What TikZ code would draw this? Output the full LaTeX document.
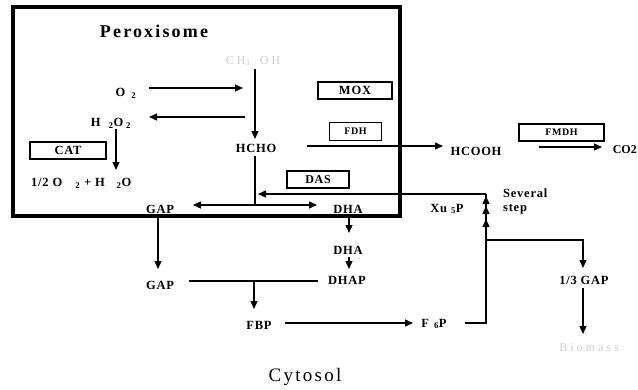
\documentclass[tikz,border=0pt]{standalone}
\usepackage{fontspec}
\setmainfont{Liberation Serif}
\newfontfamily\lblfont[LetterSpace=6]{Liberation Serif}
\newfontfamily\bigfont[LetterSpace=12]{Liberation Serif}
\newfontfamily\widefont[LetterSpace=25]{Liberation Serif}
\usetikzlibrary{arrows.meta,calc}
\begin{document}
\begin{tikzpicture}[x=1pt,y=-1pt,
  lab/.style={inner sep=0pt,font=\lblfont\bfseries\fontsize{12.5}{14}\selectfont},
  faint/.style={inner sep=0pt,text=black!20,font=\widefont\fontsize{12}{14}\selectfont},
  enz/.style={draw,line width=1.4pt,inner sep=0pt,font=\lblfont\bfseries\fontsize{#1}{13}\selectfont},
  enz/.default=11,
  ln/.style={line width=1.3pt},
  arr/.style={line width=1.3pt,-{Triangle[length=8pt,width=7pt]}},
  larr/.style={line width=1.3pt,{Triangle[length=8pt,width=7pt]}-}]
\useasboundingbox (0,0) rectangle (638,389);
% peroxisome compartment
\draw[line width=4pt] (12.5,6.5) rectangle (400,215.5);
\node[inner sep=0pt,font=\bigfont\bfseries\fontsize{18}{20}\selectfont] (perox) at (154,31) {Peroxisome};
\node[inner sep=0pt,font=\bigfont\fontsize{19}{21}\selectfont] (cyto) at (305,377) {Cytosol};

% metabolites
\node[faint] (meoh) at (253,61) {CH\textsubscript{3}\hspace{10pt}OH};
\node[lab] (o2) at (126,93) {O\hspace{6pt}\textsubscript{2}};
\node[lab] (h2o2) at (111,123) {H\hspace{8pt}\textsubscript{2}O\hspace{3pt}\textsubscript{2}};
\node[lab,anchor=west] (half) at (31,183) {1/2 O\hspace{13pt}\textsubscript{2} + H\hspace{12pt}\textsubscript{2}O};
\node[lab] (hcho) at (256,148) {HCHO};
\node[lab] (hcooh) at (476,151) {HCOOH};
\node[inner sep=0pt,font=\bfseries\fontsize{12}{14}\selectfont,anchor=east] (co2) at (637,150) {CO2};
\node[lab] (gap1) at (160,209) {GAP};
\node[lab] (dha1) at (348,209) {DHA};
\node[lab] (xu5p) at (447,209) {Xu\hspace{4pt}\textsubscript{5}P};
\node[lab,anchor=west] (sev) at (503,193) {Several};
\node[lab,anchor=west] (step) at (503,209) {step};
\node[lab] (dha2) at (348,250) {DHA};
\node[lab] (dhap) at (347,280) {DHAP};
\node[lab] (gap2) at (160,285) {GAP};
\node[lab] (fbp) at (259,325) {FBP};
\node[lab] (f6p) at (434,324) {F\hspace{5pt}\textsubscript{6}P};
\node[lab] (gap3) at (584,280) {1/3 GAP};
\node[faint] (bio) at (589,348) {Biomass};

% enzymes
\node[enz=12.5,minimum width=74pt,minimum height=17pt] (mox) at (355,90.5) {MOX};
\node[enz=10,minimum width=52pt,minimum height=18pt] (fdh) at (355.5,131.5) {FDH};
\node[enz=10,minimum width=85pt,minimum height=17pt] (fmdh) at (561.5,132.5) {FMDH};
\node[enz=12,minimum width=62pt,minimum height=17pt] (das) at (318,179.5) {DAS};
\node[enz=12.5,minimum width=76pt,minimum height=17pt] (cat) at (68,150.5) {CAT};

% junction coordinates
\coordinate (mtop) at (255,69);
\coordinate (mmid) at (255,139);
\coordinate (hbot) at (255,156);
\coordinate (hjoin) at (255,205);
\coordinate (rcol) at (486,323);
\coordinate (rtop) at (486,194);
\coordinate (rbr) at (486,240);
\coordinate (gbr) at (583,240);
\coordinate (gapdhap) at (254,281);

% peroxisome reactions
\draw[arr] (mtop) -- (mmid);
\draw[arr] (149,88) -- (243,88);
\draw[arr] (245,117) -- (149,117);
\draw[arr] (116,129) -- (116,170);
\draw[arr] (307,146) -- (443,146);
\draw[arr] (539,147) -- (602,147);
\draw[ln] (hbot) -- (hjoin);
\draw[{Triangle[length=8pt,width=7pt]}-{Triangle[length=8pt,width=7pt]},line width=1.3pt] (193,205) -- (317,205);
\draw[larr] (258,194) -- (rtop);

% cytosol
\draw[arr] (158,218) -- (158,269);
\draw[arr] (349,217) -- (349,233);
\draw[arr] (349,257) -- (349,269);
\draw[ln] (189,281) -- (318,281);
\draw[arr] (gapdhap) -- (254,309);
\draw[arr] (285,323) -- (413,323);
\draw[ln] (465,323) -- (rcol) -- (486,221);
\foreach \y in {196,206,219}
  \draw[-{Triangle[length=8pt,width=7pt]},line width=1.3pt] (486,\y+6) -- (486,\y);
\draw[ln] (rcol) -- (rtop);
\draw[arr] (rbr) -- (gbr) -- (583,268);
\draw[arr] (583,288) -- (583,334);
\end{tikzpicture}
\end{document}
